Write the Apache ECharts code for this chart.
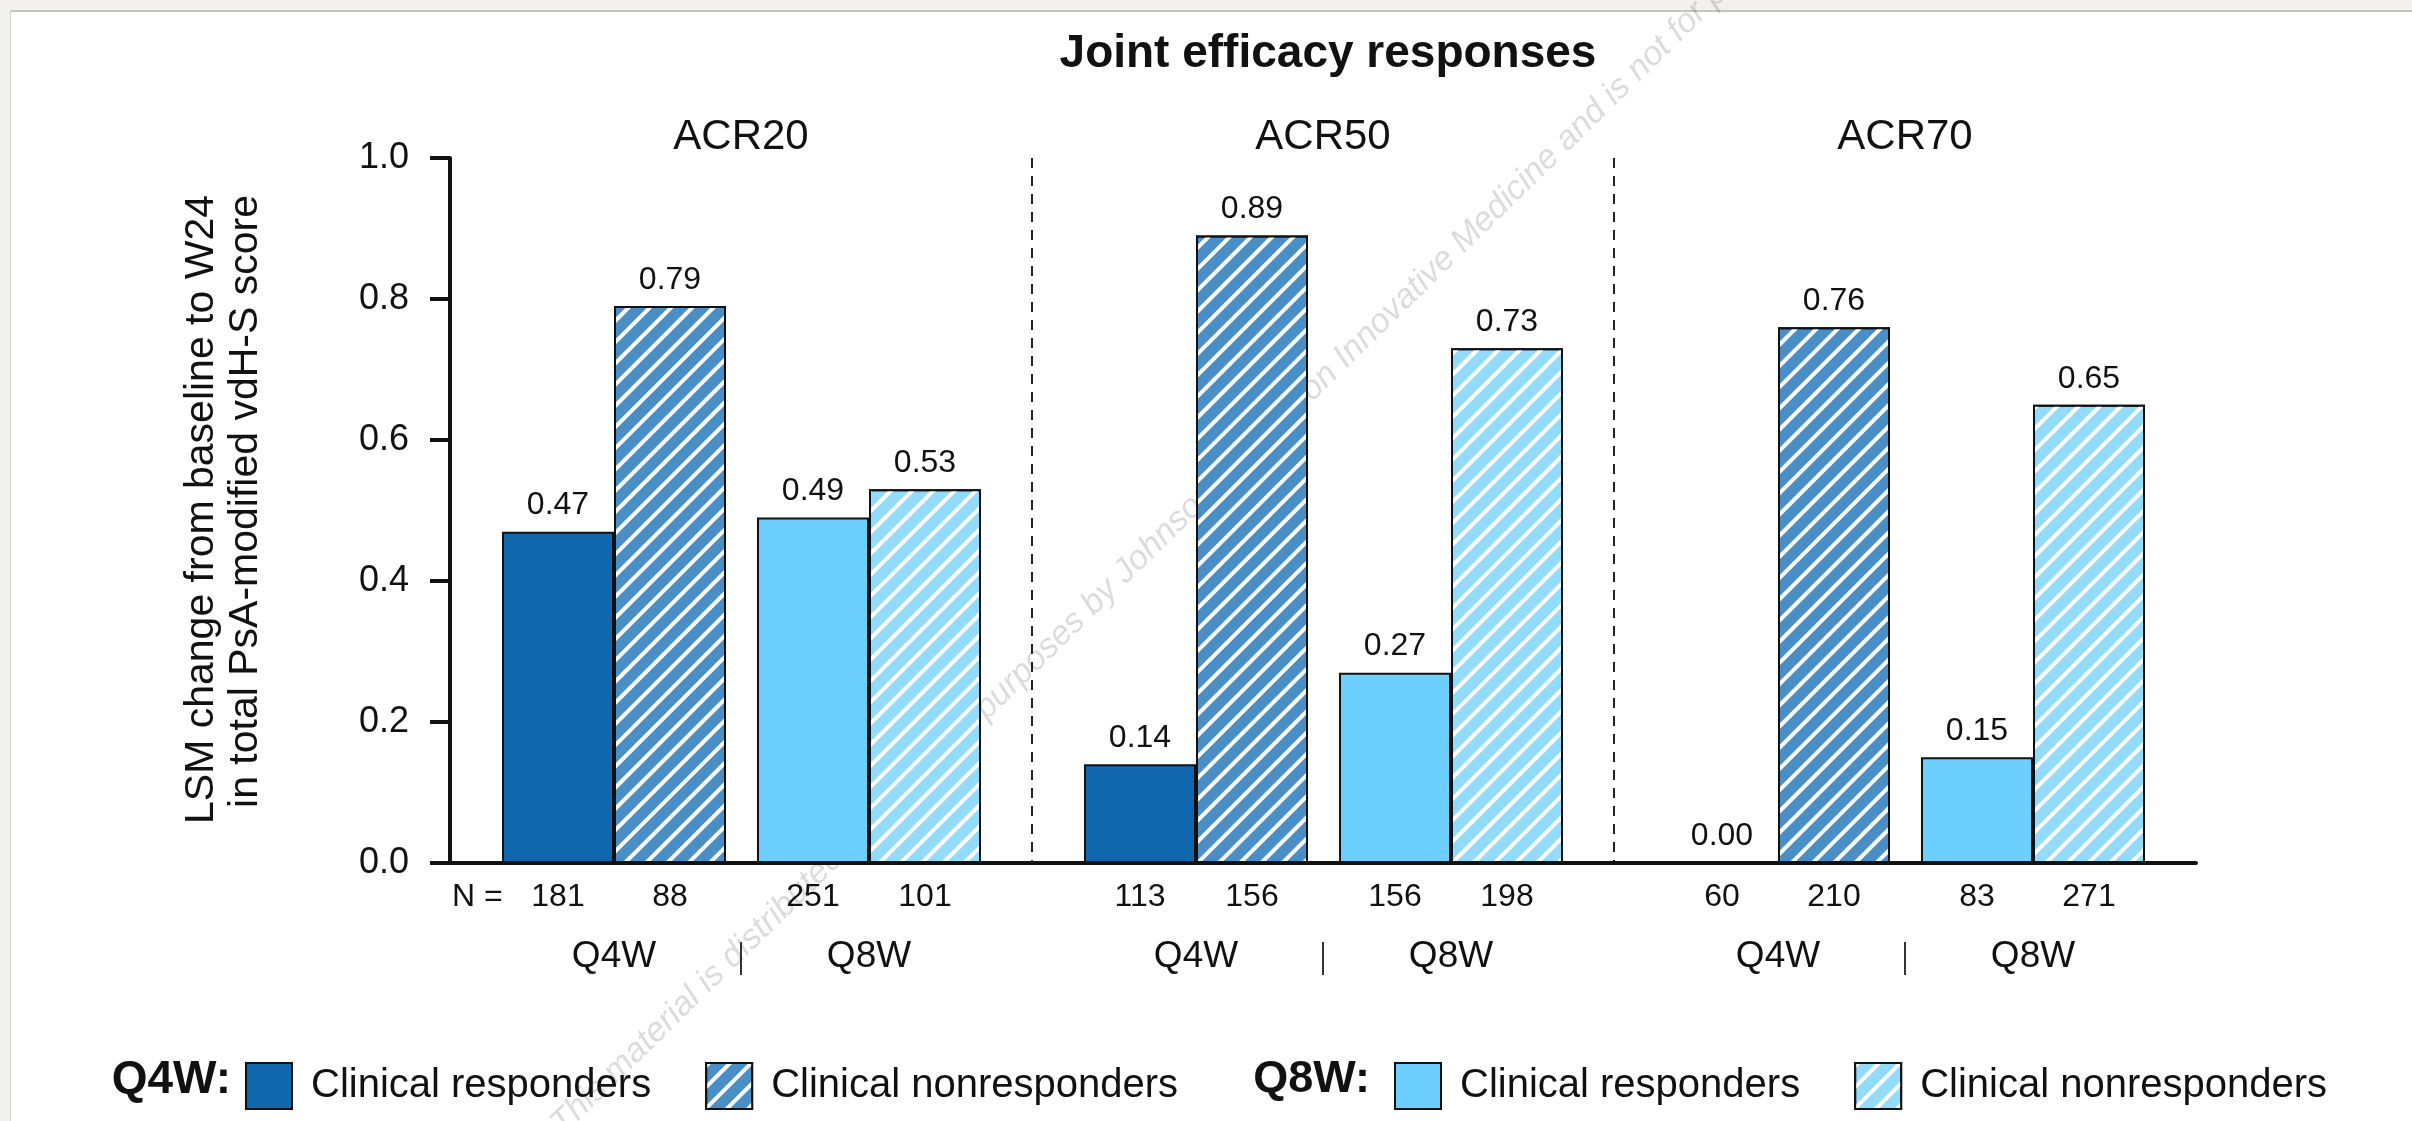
<!DOCTYPE html>
<html>
<head>
<meta charset="utf-8">
<title>Joint efficacy responses</title>
<script src="https://cdn.jsdelivr.net/npm/echarts@6/dist/echarts.min.js"></script>
<style>
  html, body { margin: 0; padding: 0; background: #fff; }
  #chart { width: 2412px; height: 1121px; }
</style>
</head>
<body>
<div id="chart"></div>
<script>
(function () {
  // data
  const groups = ['ACR20', 'ACR50', 'ACR70'];
  const q4wResponders = [0.47, 0.14, 0.00];
  const q4wNonresponders = [0.79, 0.89, 0.76];
  const q8wResponders = [0.49, 0.27, 0.15];
  const q8wNonresponders = [0.53, 0.73, 0.65];
  const nQ4wResponders = [181, 113, 60];
  const nQ4wNonresponders = [88, 156, 210];
  const nQ8wResponders = [251, 156, 83];
  const nQ8wNonresponders = [101, 198, 271];
  const doseLabels = ['Q4W', 'Q8W'];

  const font = '"Liberation Sans", Arial, Helvetica, sans-serif';
  const ink = '#111';

  const chart = echarts.init(document.getElementById('chart'));

  // white "/" stripes on the nonresponder bars
  const hatch = {
    symbol: 'rect',
    symbolSize: 1,
    dashArrayX: [1, 0],
    dashArrayY: [4, 11],
    rotation: -Math.PI / 4,
    color: '#fff'
  };

  const barLabel = {
    show: true,
    position: 'top',
    distance: 10,
    fontSize: 32,
    color: ink,
    formatter: function (p) {
      return p.value.toFixed(2);
    }
  };

  // N = row plus dose name under each pair of bars
  function pairAxis(gridIndex, nResp, nNon, dose) {
    return {
      type: 'category',
      gridIndex: gridIndex,
      data: groups,
      axisLine: { show: false },
      axisTick: { show: false },
      splitLine: { show: false },
      axisLabel: {
        margin: 14,
        formatter: function (v, i) {
          return '{n|' + nResp[i] + '}{n|' + nNon[i] + '}\n{q|' + dose + '}';
        },
        rich: {
          n: { width: 112, align: 'center', fontSize: 32, lineHeight: 40, color: ink },
          q: { fontSize: 37, lineHeight: 80, color: ink }
        }
      }
    };
  }

  function legendName(name) {
    return name.indexOf('nonresponders') >= 0 ? 'Clinical nonresponders' : 'Clinical responders';
  }

  const legendBase = {
    top: 1057,
    itemWidth: 46,
    itemHeight: 46,
    itemGap: 54,
    icon: 'rect',
    selectedMode: false,
    formatter: legendName,
    textStyle: { fontSize: 40, color: ink, padding: [0, 0, 0, 14] }
  };

  const option = {
    animation: false,
    backgroundColor: '#fff',
    textStyle: { fontFamily: font },
    title: {
      text: 'Joint efficacy responses',
      left: 1323,
      top: 26,
      textAlign: 'center',
      textStyle: { fontSize: 46, fontWeight: 'bold', color: ink, fontFamily: font }
    },
    grid: [
      { left: 450, top: 158, width: 1746, height: 705 }, // visible axes
      { left: 323, top: 158, width: 1746, height: 705 }, // Q4W pairs
      { left: 578, top: 158, width: 1746, height: 705 }  // Q8W pairs
    ],
    xAxis: [
      {
        type: 'category',
        gridIndex: 0,
        data: groups,
        axisLine: { lineStyle: { color: ink, width: 4 } },
        axisTick: { show: false },
        axisLabel: {
          margin: 79,
          formatter: function () {
            return '{s| }';
          },
          rich: { s: { width: 2, height: 33, backgroundColor: '#333' } }
        },
        splitLine: {
          show: true,
          showMinLine: false,
          showMaxLine: false,
          lineStyle: { color: '#222', width: 2, type: [10, 8] }
        }
      },
      {
        type: 'category',
        gridIndex: 0,
        position: 'top',
        data: groups,
        axisLine: { show: false, onZero: false },
        axisTick: { show: false },
        splitLine: { show: false },
        axisLabel: { fontSize: 42, color: ink, margin: 0 }
      },
      pairAxis(1, nQ4wResponders, nQ4wNonresponders, doseLabels[0]),
      pairAxis(2, nQ8wResponders, nQ8wNonresponders, doseLabels[1])
    ],
    yAxis: [
      {
        type: 'value',
        gridIndex: 0,
        min: 0,
        max: 1,
        interval: 0.2,
        axisLine: { show: true, lineStyle: { color: ink, width: 4 } },
        axisTick: { show: true, length: 20, lineStyle: { color: ink, width: 4 } },
        axisLabel: {
          fontSize: 36,
          color: ink,
          margin: 41,
          formatter: function (v) {
            return v.toFixed(1);
          }
        },
        splitLine: { show: false }
      },
      { type: 'value', gridIndex: 1, min: 0, max: 1, show: false },
      { type: 'value', gridIndex: 2, min: 0, max: 1, show: false }
    ],
    legend: [
      Object.assign({ left: 240, data: ['Q4W responders', 'Q4W nonresponders'] }, legendBase),
      Object.assign({ left: 1389, data: ['Q8W responders', 'Q8W nonresponders'] }, legendBase)
    ],
    series: [
      {
        name: 'Q4W responders',
        type: 'bar',
        xAxisIndex: 2,
        yAxisIndex: 1,
        barWidth: 112,
        barGap: '0%',
        data: q4wResponders,
        itemStyle: { color: '#1167ae', borderColor: ink, borderWidth: 2 },
        label: barLabel
      },
      {
        name: 'Q4W nonresponders',
        type: 'bar',
        xAxisIndex: 2,
        yAxisIndex: 1,
        barWidth: 112,
        barGap: '0%',
        data: q4wNonresponders,
        itemStyle: { color: '#4a8ec6', borderColor: ink, borderWidth: 2, decal: hatch },
        label: barLabel
      },
      {
        name: 'Q8W responders',
        type: 'bar',
        xAxisIndex: 3,
        yAxisIndex: 2,
        barWidth: 112,
        barGap: '0%',
        data: q8wResponders,
        itemStyle: { color: '#6dcffe', borderColor: ink, borderWidth: 2 },
        label: barLabel
      },
      {
        name: 'Q8W nonresponders',
        type: 'bar',
        xAxisIndex: 3,
        yAxisIndex: 2,
        barWidth: 112,
        barGap: '0%',
        data: q8wNonresponders,
        itemStyle: { color: '#93dbfb', borderColor: ink, borderWidth: 2, decal: hatch },
        label: barLabel
      }
    ],
    graphic: [
      // page frame of the screenshot
      { type: 'rect', z: -10, shape: { x: 0, y: 0, width: 2412, height: 10 }, style: { fill: '#f2f1ef' } },
      { type: 'rect', z: -10, shape: { x: 0, y: 10, width: 2412, height: 2 }, style: { fill: '#c9c5bd' } },
      { type: 'rect', z: -10, shape: { x: 0, y: 0, width: 10, height: 1121 }, style: { fill: '#f2f1ef' } },
      { type: 'rect', z: -10, shape: { x: 10, y: 10, width: 1, height: 1111 }, style: { fill: '#d9d6d1' } },
      // watermark
      {
        type: 'text',
        x: 1462,
        y: 266,
        rotation: 0.775,
        silent: true,
        style: {
          text: 'This material is distributed for scientific purposes by Johnson & Johnson Innovative',
          align: 'right',
          verticalAlign: 'bottom',
          fontSize: 34,
          fontStyle: 'italic',
          fontFamily: font,
          fill: 'rgba(0,0,0,0.14)'
        }
      },
      {
        type: 'text',
        x: 1462,
        y: 266,
        rotation: 0.775,
        silent: true,
        style: {
          text: ' Medicine and is not for promotional use.',
          align: 'left',
          verticalAlign: 'bottom',
          fontSize: 34,
          fontStyle: 'italic',
          fontFamily: font,
          fill: 'rgba(0,0,0,0.14)'
        }
      },
      // y axis title
      {
        type: 'text',
        x: 224,
        y: 195,
        rotation: Math.PI / 2,
        style: {
          text: 'LSM change from baseline to W24\nin total PsA-modified vdH-S score',
          align: 'right',
          verticalAlign: 'middle',
          fontSize: 41,
          lineHeight: 44,
          fontFamily: font,
          fill: ink
        }
      },
      {
        type: 'text',
        x: 452,
        y: 897,
        style: { text: 'N =', fontSize: 32, verticalAlign: 'middle', fontFamily: font, fill: ink }
      },
      {
        type: 'text',
        x: 231,
        y: 1080,
        style: { text: 'Q4W:', align: 'right', verticalAlign: 'middle', fontSize: 46, fontWeight: 'bold', fontFamily: font, fill: ink }
      },
      {
        type: 'text',
        x: 1370,
        y: 1080,
        style: { text: 'Q8W:', align: 'right', verticalAlign: 'middle', fontSize: 45, fontWeight: 'bold', fontFamily: font, fill: ink }
      }
    ]
  };

  chart.setOption(option);
}());
</script>
</body>
</html>
